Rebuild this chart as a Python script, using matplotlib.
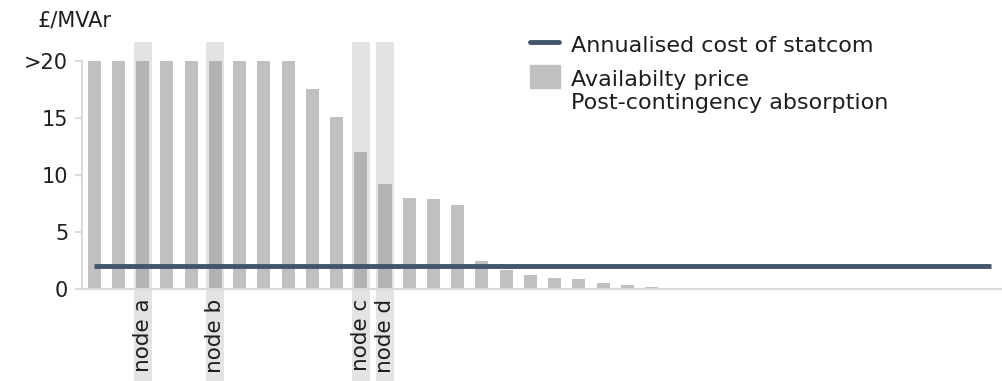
import numpy as np
import matplotlib.pyplot as plt
from matplotlib.patches import Rectangle
from matplotlib.lines import Line2D

# availability price per node, capped at 20 (shown as ">20")
prices = [20, 20, 20, 20, 20, 20, 20, 20, 20, 17.5, 15.1, 12.0, 9.2, 7.97, 7.9, 7.35,
          2.45, 1.66, 1.26, 1.0, 0.91, 0.5, 0.32, 0.15, 0.1]
n_nodes = 38
statcom_cost = 2.0
node_labels = {2: "node a", 5: "node b", 11: "node c", 12: "node d"}
yticks = [0, 5, 10, 15, 20]
ytick_labels = ["0", "5", "10", "15", ">20"]

txt = "#1e1e1e"
line_col = "#44546a"
bar_col = "#c0c0c0"

plt.rcParams['font.family'] = ['DejaVu Sans']
fig = plt.figure(figsize=(10.03, 3.81), dpi=100)
ax = fig.add_axes([0.0818, 0.2415, 0.9182, 0.5992])

x = np.arange(n_nodes)
vals = np.zeros(n_nodes)
vals[:len(prices)] = prices

# highlighted nodes
for i in node_labels:
    ax.axvspan(i - 0.37, i + 0.37, ymin=-0.41, ymax=1.082, color="#e3e3e3",
               clip_on=False, zorder=0, lw=0)

colors = ["#b3b3b3" if i in node_labels else bar_col for i in range(n_nodes)]
ax.bar(x, vals, width=0.54, color=colors, zorder=2)
ax.plot([x[0], x[-1]], [statcom_cost, statcom_cost], color=line_col, lw=3.5,
        zorder=3, solid_capstyle="butt")

ax.set_xlim(-0.5, n_nodes - 0.5)
ax.set_ylim(0, 20)
ax.set_yticks(yticks)
ax.set_yticklabels(ytick_labels)
ax.set_xticks(list(node_labels.keys()))
ax.set_xticklabels(list(node_labels.values()), rotation=90)

for s in ["top", "right"]:
    ax.spines[s].set_visible(False)
for s in ["left", "bottom"]:
    ax.spines[s].set_color("#d9d9d9")
    ax.spines[s].set_linewidth(1.5)
ax.tick_params(axis="y", length=5, width=1.5, color="#d9d9d9", pad=5,
               labelsize=15, labelcolor=txt)
ax.tick_params(axis="x", length=0, pad=7, labelsize=15.5, labelcolor=txt)
ax.set_facecolor("none")

fig.text(0.038, 0.947, "£/MVAr", fontsize=15, color=txt, va="center")

# legend drawn by hand so the patch sits level with the first label line
fig.add_artist(Line2D([0.5284, 0.5573], [0.8898, 0.8898], color=line_col, lw=3.5,
                      solid_capstyle="round", transform=fig.transFigure))
fig.add_artist(Rectangle((0.5284, 0.769), 0.0299, 0.0604, color=bar_col,
                         transform=fig.transFigure))
fig.text(0.5693, 0.8643, "Annualised cost of statcom", fontsize=16, color=txt,
         va="baseline")
fig.text(0.5693, 0.775, "Availabilty price", fontsize=16, color=txt, va="baseline")
fig.text(0.5693, 0.714, "Post-contingency absorption", fontsize=16, color=txt,
         va="baseline")

fig.savefig("out.png", dpi=100)
